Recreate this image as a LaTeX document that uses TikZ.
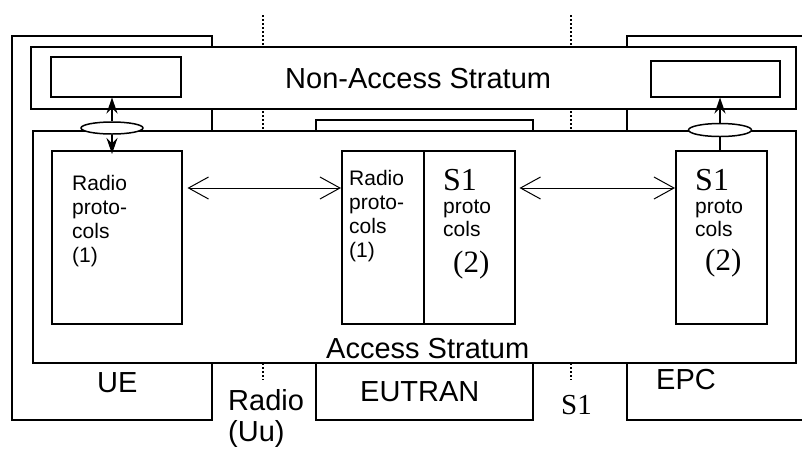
\documentclass[tikz,border=0pt]{standalone}
\usepackage{fontspec}
\setmainfont{Liberation Sans}
\newfontfamily\timesfont{Liberation Serif}
\usetikzlibrary{arrows.meta, positioning, calc, shapes.geometric}
\tikzstyle{box} = [rectangle, draw, fill=white, line width=1.5pt, inner sep=0pt, anchor=north west]
\tikzstyle{arrow} = [line width=1pt, {Straight Barb[length=20pt,width=22pt]}-{Straight Barb[length=20pt,width=22pt]}]
\tikzstyle{link} = [line width=1.5pt, -{Stealth[length=16pt,width=11pt]}]
\tikzstyle{divider} = [line width=2.5pt, dash pattern=on 2pt off 2pt]
\tikzstyle{big} = [inner sep=0pt, anchor=base west, font=\fontsize{29}{31}\selectfont]
\tikzstyle{small} = [inner sep=0pt, anchor=base west, align=left, font=\fontsize{21}{24}\selectfont]
\tikzstyle{serif} = [inner sep=0pt, anchor=base west, font=\fontsize{31}{31}\timesfont\selectfont]

\begin{document}
\begin{tikzpicture}[x=1pt, y=-1pt]
        % protocol stacks of UE, EUTRAN and EPC
        \useasboundingbox (0,0) rectangle (802,448);
        \clip (0,0) rectangle (802,448);
        \coordinate (uuTop) at (263,15);
        \coordinate (uuBot) at (263,380);
        \coordinate (s1Top) at (571,15);
        \coordinate (s1Bot) at (571,380);
        \draw[divider] (uuTop) -- (uuBot);
        \draw[divider] (s1Top) -- (s1Bot);

        \node[box, line width=2pt, minimum width=200pt, minimum height=384pt] (ue) at (11,35) {};
        \node[box, line width=2pt, minimum width=230pt, minimum height=384pt] (epc) at (626,35) {};
        \node[box, line width=2pt, minimum width=765pt, minimum height=62pt] (nas) at (30,46) {};
        \node[box, minimum width=130pt, minimum height=40pt] (nasL) at (50,56) {};
        \node[box, minimum width=129pt, minimum height=36pt] (nasR) at (650,60) {};
        \node[box, line width=2pt, minimum width=217pt, minimum height=300pt] (eutran) at (315,119) {};
        \node[box, line width=2pt, minimum width=763pt, minimum height=232pt] (as) at (32,130) {};
        \node[box, minimum width=130pt, minimum height=173pt] (radioUE) at (51,150) {};
        \node[box, minimum width=82pt, minimum height=173pt] (radioEN) at (341,150) {};
        \node[box, minimum width=91pt, minimum height=173pt] (s1EN) at (423,150) {};
        \node[box, minimum width=91pt, minimum height=173pt] (s1EPC) at (675,150) {};
        \node[ellipse, draw, fill=white, line width=1.5pt, inner sep=0pt, minimum width=62pt, minimum height=12pt] (ellUE) at (112,128) {};
        \node[ellipse, draw, fill=white, line width=1.5pt, inner sep=0pt, minimum width=63pt, minimum height=13pt] (ellEPC) at (720,130) {};

        \draw[link] (ellUE.north) -- (ellUE.north |- nasL.south);
        \draw[link, shorten >=-4pt] (ellUE.south) -- (ellUE.south |- radioUE.north);
        \draw[line width=1.5pt] (ellEPC.south |- s1EPC.north) -- (ellEPC.south);
        \draw[link] (ellEPC.north) -- (ellEPC.north |- nasR.south);
        \draw[arrow] ($(radioUE.north east)+(5,38)$) -- ($(radioEN.north west)+(0,38)$);
        \draw[arrow] ($(s1EN.north east)+(4,38)$) -- ($(s1EPC.north west)+(0,38)$);

        \node[big] (nasText) at (285,88) {Non-Access Stratum};
        \node[big] (asText) at (326,358) {Access Stratum};
        \node[big] (ueText) at (97,392) {UE};
        \node[big] (eutranText) at (360,401) {EUTRAN};
        \node[big] (epcText) at (656,389) {EPC};
        \node[big, align=left, font=\fontsize{29}{31}\selectfont] (uuText) at (228,441) {Radio\\(Uu)};
        \node[serif, font=\fontsize{29}{31}\timesfont\selectfont] (s1Text) at (561,414) {S1};

        \node[small] (radioUEText) at (72,262) {Radio\\proto-\\cols\\(1)};
        \node[small] (radioENText) at (349,257) {Radio\\proto-\\cols\\(1)};
        \node[serif, font=\fontsize{32}{32}\timesfont\selectfont, text depth=0pt] (s1ENTitle) at (443,190) {S1};
        \node[small, font=\fontsize{21}{23}\selectfont] (s1ENText) at (443,236) {proto\\cols};
        \node[serif] (s1ENNum) at (453,272) {(2)};
        \node[serif, font=\fontsize{32}{32}\timesfont\selectfont, text depth=0pt] (s1EPCTitle) at (695,190) {S1};
        \node[small, font=\fontsize{21}{23}\selectfont] (s1EPCText) at (695,236) {proto\\cols};
        \node[serif] (s1EPCNum) at (705,270) {(2)};
    \end{tikzpicture}
\end{document}
